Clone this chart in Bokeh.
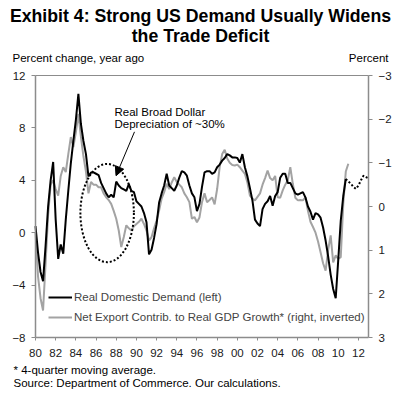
import numpy as np
from bokeh.plotting import figure
from bokeh.models import (Range1d, LinearAxis, FixedTicker, Label, Legend, Arrow,
                          NormalHead)
from bokeh.embed import file_html
from bokeh.resources import INLINE

# ---------------- data ----------------
start_year = 1980.0  # first quarter shown
# Real domestic demand, % change y/y (left axis), quarterly from 1980Q1
domestic_demand = [
    0.5, -1.5, -3.0, -3.7,      # 1980
    -1.0, 2.0, 4.0, 5.4,        # 1981
    1.0, -2.0, -0.9, -1.6,      # 1982
    1.0, 3.2, 5.3, 7.0,         # 1983
    8.6, 10.6, 8.3, 7.0,        # 1984
    6.0, 4.3, 4.6, 4.6,         # 1985
    4.5, 4.4, 3.8, 3.4,         # 1986
    3.0, 2.7, 2.9, 2.7,         # 1987
    3.9, 3.6, 3.4, 3.3,         # 1988
    3.2, 3.7, 3.2, 3.1,         # 1989
    2.4, 2.2, 2.0, 1.5,         # 1990
    0.8, -1.65, -1.3, -0.4,     # 1991
    0.65, 2.3, 3.0, 3.6,        # 1992
    4.5, 3.6, 3.4, 3.2,         # 1993
    3.6, 4.2, 4.7, 4.6,         # 1994
    4.35, 3.6, 3.0, 2.7,        # 1995
    1.65, 2.2, 3.5, 4.6,        # 1996
    4.7, 4.7, 4.5, 4.6,         # 1997
    5.0, 5.2, 5.5, 5.7,         # 1998
    6.0, 5.9, 5.75, 5.75,       # 1999
    5.7, 5.35, 6.0, 5.0,        # 2000
    4.3, 3.4, 2.45, 1.0,        # 2001
    0.7, 0.5, 1.8, 2.2,         # 2002
    2.4, 2.8, 2.05, 2.8,        # 2003
    3.1, 4.2, 4.5, 4.5,         # 2004
    3.8, 3.8, 3.4, 3.0,         # 2005
    2.9, 3.0, 3.1, 2.7,         # 2006
    2.0, 1.6, 1.0, 1.5,         # 2007
    1.4, 1.15, 0.4, -0.6,       # 2008
    -1.8, -3.2, -4.3, -5.0,     # 2009
    -2.1, 0.9, 2.8, 4.1,        # 2010
]
# Forecast continuation of domestic demand (dotted), from 2010Q4
forecast_start = 2010.75
domestic_demand_fcst = [4.1, 3.9, 3.75, 3.5, 3.35, 3.6, 4.0, 4.35, 4.25, 4.15]

# Net export contribution to real GDP growth, 4q m.a. (right axis, inverted)
net_exports = [
    0.6, 1.6, 2.1, 2.38,        # 1980
    1.3, 0.2, -0.5, -0.6,       # 1981
    -0.4, -0.25, -0.7, -0.9,    # 1982
    -0.79, -1.2, -1.59, -1.36,  # 1983
    -1.7, -2.12, -1.6, -1.15,   # 1984
    -0.8, -0.3, -0.56, -0.5,    # 1985
    -0.5, -0.44, -0.44, -0.3,   # 1986
    -0.21, -0.15, -0.06, 0.1,   # 1987
    0.28, 0.55, 0.93, 0.7,      # 1988
    0.43, 0.5, 0.55, 0.45,      # 1989
    0.4, 0.35, 0.28, 0.4,       # 1990
    0.55, 0.78, 0.7, 0.5,       # 1991
    0.32, 0.09, -0.18, -0.33,   # 1992
    -0.52, -0.4, -0.55, -0.67,  # 1993
    -0.56, -0.5, -0.44, -0.3,   # 1994
    -0.21, -0.1, 0.28, 0.24,    # 1995
    0.36, 0.25, -0.1, -0.3,     # 1996
    -0.1, -0.15, -0.21, -0.05,  # 1997
    -0.4, -0.9, -1.2, -1.3,     # 1998
    -1.1, -1.0, -0.95, -0.94,   # 1999
    -0.96, -0.9, -0.82, -0.75,  # 2000
    -0.55, -0.25, -0.18, -0.14, # 2001
    -0.22, -0.3, -0.5, -0.65,   # 2002
    -0.82, -0.65, -0.6, -0.7,   # 2003
    -0.21, -0.2, -0.37, -0.5,   # 2004
    -0.6, -0.9, -0.52, -0.2,    # 2005
    -0.14, -0.15, -0.14, -0.21, # 2006
    0.1, 0.35, 0.47, 0.6,       # 2007
    0.8, 1.05, 1.3, 1.47,       # 2008
    1.0, 0.66, 1.28, 1.12,      # 2009
    1.2, 1.16, -0.06, -0.8,     # 2010
    -0.98,                      # 2011
]

x_min, x_max = 1980, 2013
left_min, left_max = -8, 12
right_top, right_bottom = -3, 3       # right axis is inverted
x_tick_years = list(range(1980, 2013, 2))
x_tick_labels = [str(y)[2:] for y in x_tick_years]
left_ticks = [-8, -4, 0, 4, 8, 12]
right_ticks = [-3, -2, -1, 0, 1, 2, 3]

title_lines = ["Exhibit 4: Strong US Demand Usually Widens", "the Trade Deficit"]
left_unit, right_unit = "Percent change, year ago", "Percent"
footnotes = ["* 4-quarter moving average.", "Source: Department of Commerce. Our calculations."]
annotation_lines = ["Real Broad Dollar", "Depreciation of ~30%"]
legend_labels = ["Real Domestic Demand (left)",
                 "Net Export Contrib. to Real GDP Growth* (right, inverted)"]

# annotation ellipse (dollar depreciation period) in data units
ellipse_x, ellipse_y, ellipse_w, ellipse_h = 1987.1, 1.5, 5.3, 7.5

# ---------------- layout geometry (pixels) ----------------
W, H = 400, 393
PL, PR, PT, PB = 35, 368, 75, 337   # plot box on the canvas
FONT = "Liberation Sans"
FS = "11.5px"
AXIS_GRAY = "#8c8c8c"
LINE_GRAY = "#a3a3a3"

# the whole canvas is the frame; ranges are extended so the plot box sits at PL..PR, PT..PB
xs = (PR - PL) / (x_max - x_min)
ys = (PB - PT) / (left_max - left_min)
rs = (PB - PT) / (right_bottom - right_top)
x_range = Range1d(x_min - PL / xs, x_max + (W - PR) / xs)
y_range = Range1d(left_min - (H - PB) / ys, left_max + PT / ys)
r_range = Range1d(start=right_bottom + (H - PB) / rs, end=right_top - PT / rs)

p = figure(frame_width=W, frame_height=H, min_border=0,
           x_range=x_range, y_range=y_range,
           output_backend="svg", toolbar_location=None, tools="")
p.title.visible = False
p.background_fill_color = "white"
p.border_fill_color = "white"
p.outline_line_color = None
p.xgrid.visible = False
p.ygrid.visible = False

xaxis = p.below[0]
yaxis = p.left[0]

p.extra_y_ranges = {"right": r_range}
raxis = LinearAxis(y_range_name="right", ticker=FixedTicker(ticks=right_ticks))
p.add_layout(raxis, "right")
taxis = LinearAxis(ticker=FixedTicker(ticks=[]))
p.add_layout(taxis, "above")

xaxis.fixed_location = left_min
xaxis.bounds = (x_min, x_max)
taxis.fixed_location = left_max
taxis.bounds = (x_min, x_max)
yaxis.fixed_location = x_min
yaxis.bounds = (left_min, left_max)
raxis.fixed_location = x_max
raxis.bounds = (right_top, right_bottom)

for ax in [xaxis, yaxis, raxis, taxis]:
    ax.axis_line_color = AXIS_GRAY
    ax.axis_line_width = 1.5
    ax.major_tick_line_color = AXIS_GRAY
    ax.minor_tick_line_color = None
    ax.major_label_text_font = FONT
    ax.major_label_text_font_size = FS
    ax.major_label_text_color = "#1a1a1a"
taxis.axis_line_width = 1
taxis.major_tick_line_color = None
taxis.major_label_text_font_size = "0px"

xaxis.ticker = FixedTicker(ticks=x_tick_years)
xaxis.major_label_overrides = {y: l for y, l in zip(x_tick_years, x_tick_labels)}
xaxis.major_tick_in = 0
xaxis.major_tick_out = 3
xaxis.major_label_standoff = 8

yaxis.ticker = FixedTicker(ticks=left_ticks)
yaxis.major_tick_in = 0
yaxis.major_tick_out = 4
yaxis.major_label_standoff = 6

raxis.major_tick_in = 0
raxis.major_tick_out = 4
raxis.major_label_standoff = 6

# ---------------- series ----------------
xq = start_year + 0.25 * np.arange(len(domestic_demand))
xn = start_year + 0.25 * np.arange(len(net_exports))
xf = forecast_start + 0.25 * np.arange(len(domestic_demand_fcst))

r_gray = p.line(xn, net_exports, y_range_name="right", line_color=LINE_GRAY, line_width=2)
r_black = p.line(xq, domestic_demand, line_color="black", line_width=2)
p.line(xf, domestic_demand_fcst, line_color="black", line_width=2, line_dash="2 2")

p.ellipse(x=[ellipse_x], y=[ellipse_y], width=[ellipse_w], height=[ellipse_h],
          fill_color=None, line_color="black", line_width=2, line_dash="2 2")

p.add_layout(Arrow(end=NormalHead(size=9, fill_color="black", line_color="black"),
                   x_start=1989.81, y_start=7.7, x_end=1987.98, y_end=4.35,
                   line_color="black", line_width=1))

legend = Legend(items=[(legend_labels[0], [r_black]), (legend_labels[1], [r_gray])],
                location=(48, H - 327), border_line_color=None, background_fill_alpha=0,
                padding=0, margin=0, spacing=0, glyph_width=24, glyph_height=20,
                label_height=20, label_standoff=2,
                label_text_font=FONT, label_text_font_size=FS)
p.add_layout(legend)


# ---------------- texts (screen px, top-left origin converted) ----------------
def lab(text, x, y_top, size=FS, align="left", bold=False):
    p.add_layout(Label(x=x, y=H - y_top, x_units="screen", y_units="screen", text=text,
                       text_font=FONT, text_font_size=size, text_align=align,
                       text_baseline="middle", text_color="black",
                       text_font_style="bold" if bold else "normal"))


lab(title_lines[0], 200, 15, "17.7px", "center", True)
lab(title_lines[1], 200, 35, "17.7px", "center", True)
lab(left_unit, 12, 57)
lab(right_unit, 388, 57, align="right")
lab(annotation_lines[0], 114, 111)
lab(annotation_lines[1], 114, 123)
lab(footnotes[0], 13, 369)
lab(footnotes[1], 13, 382)

open("out.html", "w").write(file_html(p, INLINE))
